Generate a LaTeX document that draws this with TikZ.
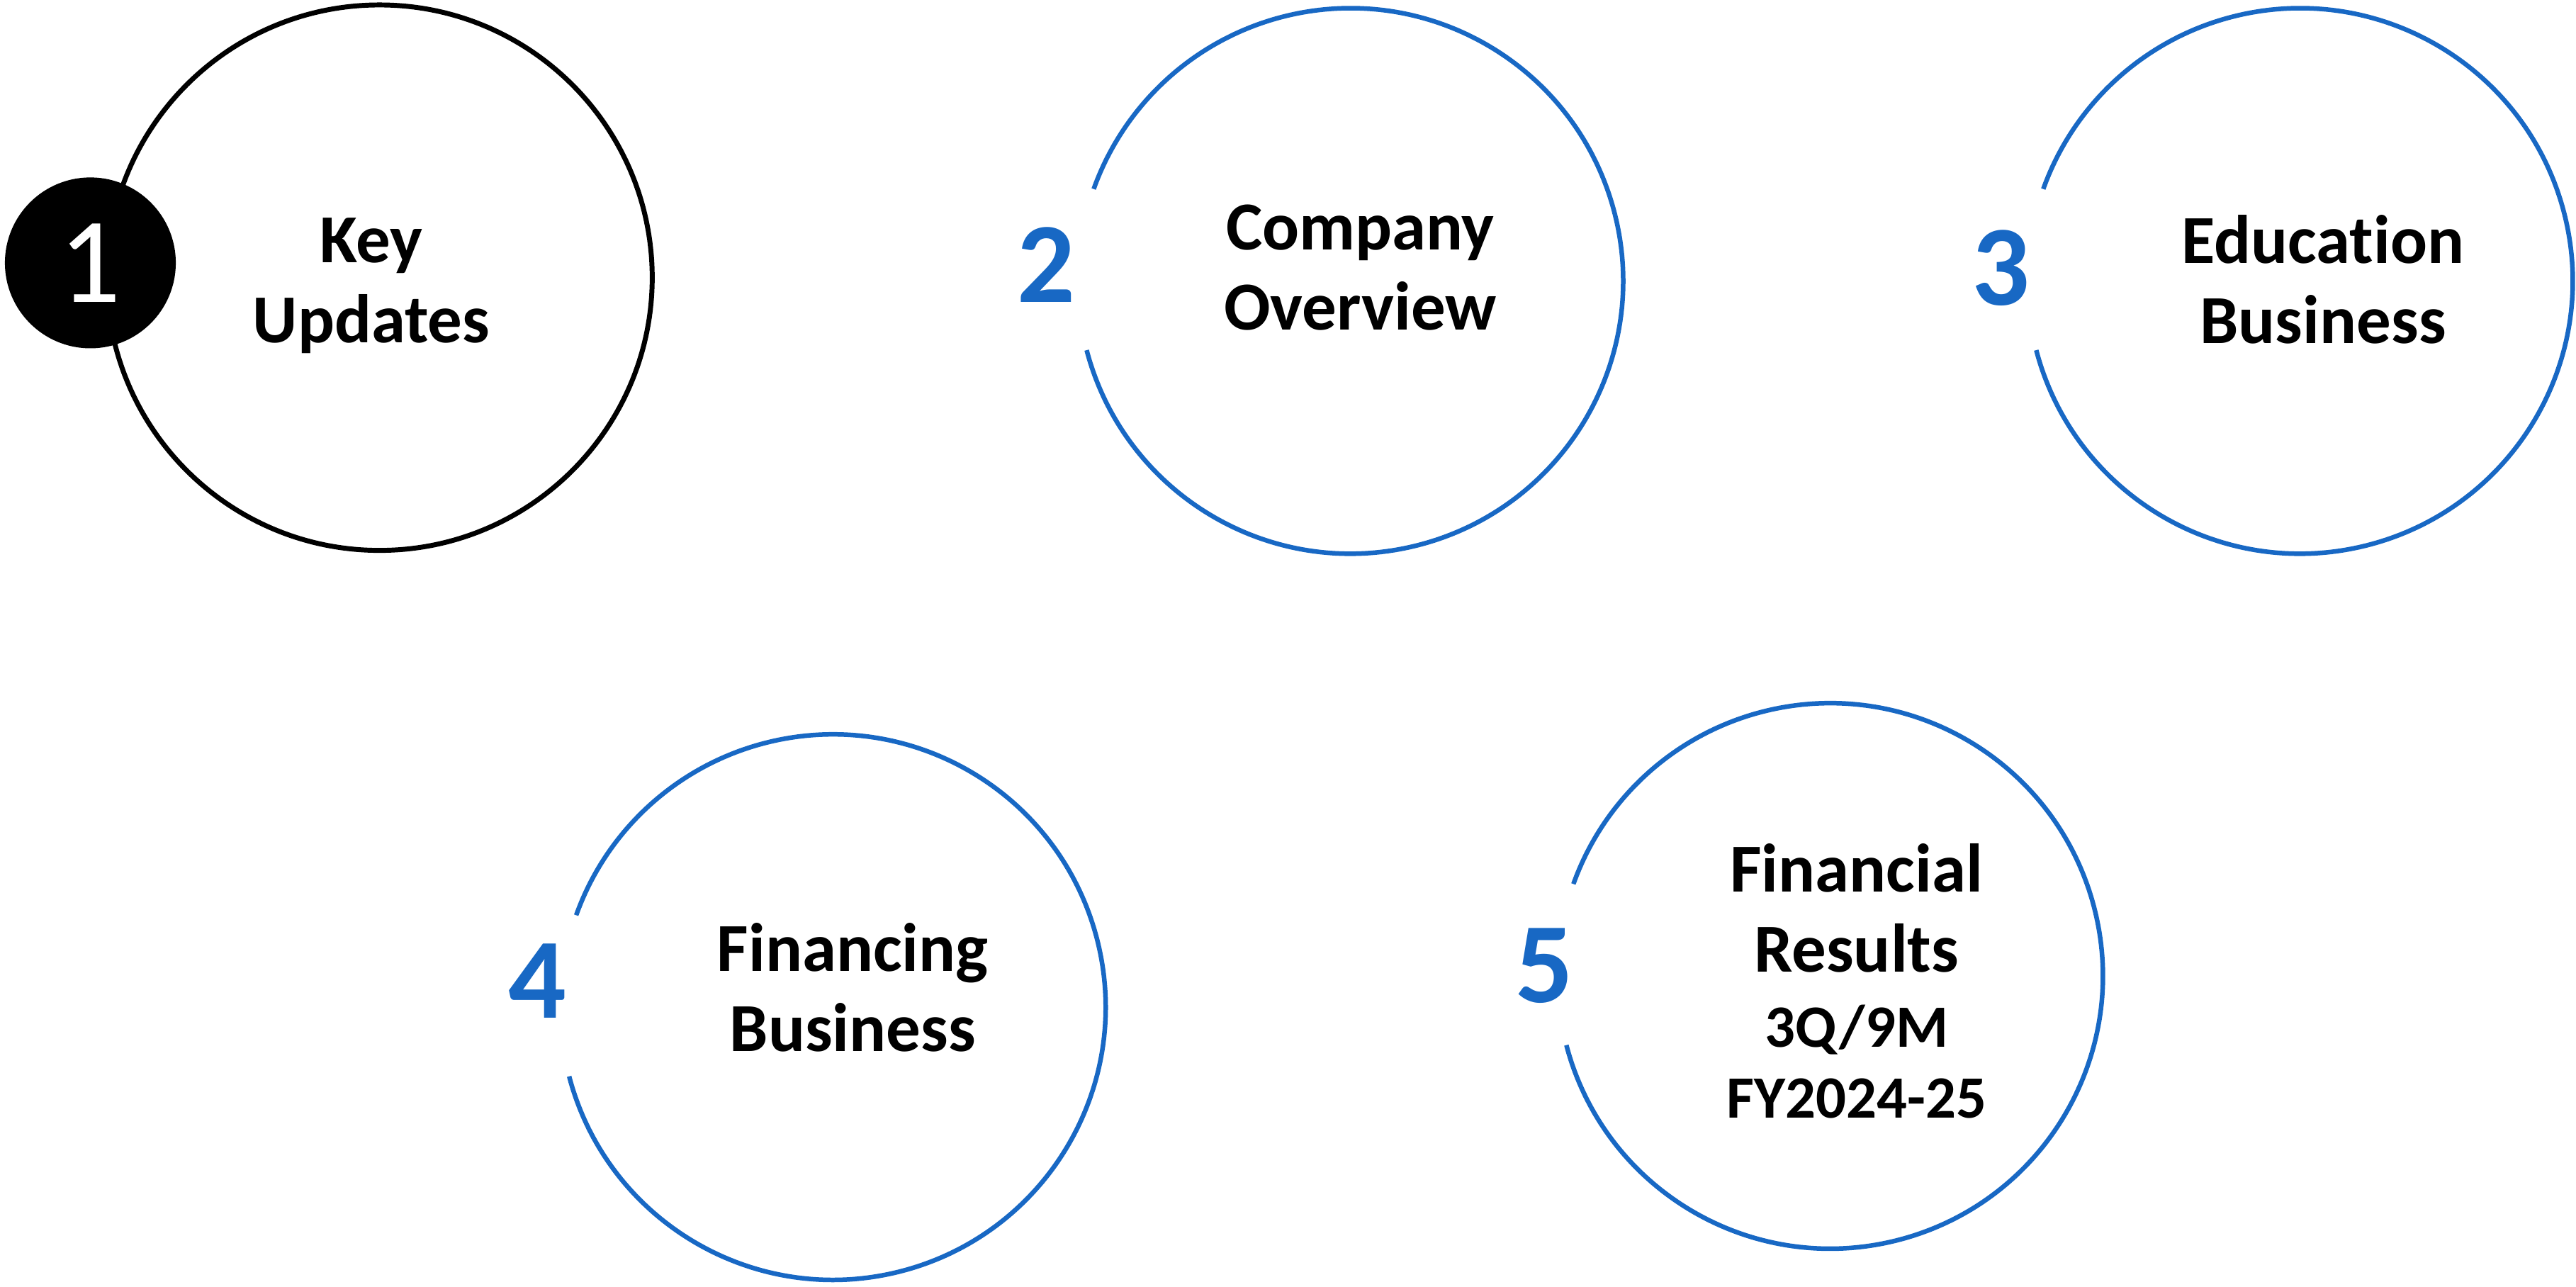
\documentclass[tikz,border=0pt]{standalone}
\usepackage{fontspec}
\setmainfont{Carlito}[Ligatures=NoCommon]
\definecolor{ringblue}{RGB}{24,104,196}
\begin{document}
\begin{tikzpicture}[x=1mm,y=1mm,
  ring/.style={line width=2.8mm, draw=ringblue},
  topic/.style={font=\bfseries\fontsize{119}{139}\selectfont, align=center, inner sep=0pt},
  numeral/.style={font=\bfseries\fontsize{198}{200}\selectfont, text=ringblue, inner sep=0pt},
]
\useasboundingbox (0,0) rectangle (1568,-783);

% centres of the section rings
\coordinate (c1) at (231,-169);
\coordinate (c2) at (822,-171);
\coordinate (c3) at (1400,-171);
\coordinate (c4) at (507,-613);
\coordinate (c5) at (1114,-594);

% section 1: closed black ring with a filled badge
\draw[line width=3mm, black] (c1) circle[radius=166mm];
\node[circle, fill=black, minimum size=104mm, inner sep=0pt] (b1) at (55,-160) {};
\node[font=\fontsize{211}{215}\selectfont, text=white, inner sep=0pt] (n1) at (b1) {1};
\node[topic] (t1) at (226,-174) {Key\\Updates};

% sections 2-5: blue rings, open on the left where the numeral sits
\foreach \c in {c2,c3,c4,c5}{
  \draw[ring] ([shift={(194.7:166mm)}]\c) arc[start angle=194.7, end angle=520.3, radius=166mm];
}

\node[numeral] (n2) at (637,-161) {2};
\node[numeral] (n3) at (1218,-163) {3};
\node[numeral] (n4) at (327,-597) {4};
\node[numeral] (n5) at (940,-588) {5};

\node[topic] (t2) at (828,-163) {Company\\Overview};
\node[topic] (t3) at (1414,-170) {Education\\Business};
\node[topic] (t4) at (519,-601) {Financing\\Business};
\node[topic] (t5) at (1130,-597) {Financial\\Results\\[-3mm]{\fontsize{104}{128}\selectfont 3Q/9M}\\[-6mm]{\fontsize{104}{128}\selectfont FY2024-25}};
\end{tikzpicture}
\end{document}
